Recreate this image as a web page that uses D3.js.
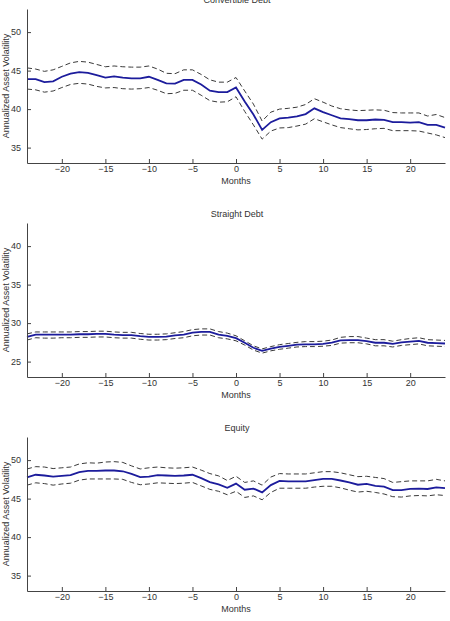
<!DOCTYPE html>
<html>
<head>
<meta charset="utf-8">
<script src="https://cdn.jsdelivr.net/npm/d3@7"></script>
<style>
  html, body { margin: 0; padding: 0; background: #fff; }
  svg { display: block; }
  text { font-family: "Liberation Sans", Arial, Helvetica, sans-serif; }
</style>
</head>
<body>
<script>
// ---- Data ----
const months = d3.range(-24, 25);
const xTicks = [-20, -15, -10, -5, 0, 5, 10, 15, 20];

const titles = ["Convertible Debt", "Straight Debt", "Equity"];
const yDomains = [[33, 53], [23, 43], [33, 53]];
const yTicksList = [[35, 40, 45, 50], [25, 30, 35, 40], [35, 40, 45, 50]];

const convMean = [43.9,43.9,43.5,43.6,44.2,44.6,44.8,44.7,44.4,44.1,44.25,44.1,44.0,44.0,44.2,43.8,43.35,43.3,43.8,43.8,43.2,42.4,42.2,42.2,42.8,41.0,39.3,37.3,38.3,38.8,38.9,39.05,39.35,40.1,39.6,39.2,38.8,38.7,38.55,38.55,38.65,38.6,38.3,38.3,38.25,38.3,37.95,37.95,37.6];
const convUpper = [45.35,45.2,44.9,45.1,45.55,46.0,46.2,46.1,45.8,45.5,45.6,45.5,45.45,45.45,45.6,45.2,44.65,44.6,45.1,45.1,44.5,43.8,43.5,43.5,44.1,42.35,40.65,38.45,39.6,40.0,40.1,40.25,40.6,41.35,40.9,40.4,40.05,39.9,39.8,39.85,39.9,39.85,39.55,39.5,39.5,39.5,39.1,39.3,38.9];
const convLower = [42.6,42.5,42.2,42.35,42.8,43.2,43.35,43.25,42.95,42.75,42.8,42.65,42.6,42.65,42.8,42.45,42.0,42.05,42.45,42.45,41.8,41.1,40.9,40.95,41.6,39.7,37.95,36.1,37.15,37.55,37.6,37.8,38.05,38.75,38.35,37.95,37.6,37.45,37.3,37.35,37.45,37.5,37.2,37.2,37.2,37.15,36.9,36.65,36.3];

const straightMean = [28.2,28.5,28.5,28.5,28.5,28.5,28.55,28.55,28.6,28.6,28.5,28.45,28.45,28.3,28.2,28.2,28.25,28.4,28.5,28.75,28.85,28.85,28.5,28.35,28.05,27.45,26.8,26.4,26.7,26.9,27.05,27.2,27.25,27.25,27.3,27.45,27.75,27.8,27.8,27.65,27.45,27.45,27.3,27.5,27.6,27.7,27.45,27.4,27.35];
const straightUpper = [28.6,28.85,28.85,28.85,28.85,28.85,28.9,28.9,28.95,28.95,28.85,28.8,28.8,28.65,28.55,28.55,28.6,28.75,28.9,29.15,29.25,29.25,28.9,28.7,28.35,27.7,27.05,26.65,26.95,27.2,27.35,27.5,27.6,27.6,27.65,27.8,28.15,28.25,28.25,28.05,27.85,27.85,27.65,27.85,28.0,28.1,27.85,27.8,27.75];
const straightLower = [27.8,28.1,28.05,28.05,28.1,28.1,28.15,28.15,28.2,28.2,28.1,28.05,28.05,27.9,27.8,27.8,27.85,28.0,28.1,28.35,28.45,28.45,28.1,27.95,27.7,27.15,26.5,26.1,26.4,26.6,26.75,26.9,26.95,26.95,27.0,27.1,27.4,27.45,27.45,27.3,27.05,27.05,26.9,27.1,27.2,27.3,27.05,27.0,26.95];

const equityMean = [47.75,48.1,48.0,47.85,47.95,48.05,48.45,48.6,48.6,48.65,48.65,48.55,48.2,47.8,47.85,48.05,48.0,47.95,48.0,48.1,47.65,47.15,46.85,46.4,46.95,46.15,46.3,45.8,46.75,47.3,47.25,47.25,47.25,47.4,47.55,47.55,47.35,47.1,46.8,46.9,46.65,46.55,46.1,46.1,46.25,46.3,46.25,46.45,46.35];
const equityUpper = [48.85,49.15,49.1,48.9,49.0,49.1,49.5,49.65,49.6,49.75,49.8,49.7,49.25,48.85,49.0,49.1,49.0,48.95,49.0,49.1,48.7,48.25,47.95,47.35,47.9,47.1,47.3,46.75,47.8,48.25,48.2,48.2,48.2,48.35,48.5,48.5,48.35,48.1,47.85,47.9,47.75,47.6,47.1,47.2,47.3,47.3,47.3,47.5,47.3];
const equityLower = [46.75,47.05,46.95,46.75,46.9,47.0,47.4,47.55,47.55,47.55,47.55,47.5,47.1,46.8,46.9,47.05,47.0,46.95,47.0,47.1,46.65,46.2,45.95,45.5,45.95,45.15,45.35,44.85,45.8,46.35,46.35,46.35,46.35,46.5,46.6,46.6,46.4,46.1,45.85,45.95,45.8,45.6,45.25,45.2,45.35,45.4,45.35,45.5,45.4];

const meanSeries = [convMean, straightMean, equityMean];
const upperSeries = [convUpper, straightUpper, equityUpper];
const lowerSeries = [convLower, straightLower, equityLower];

// ---- Layout ----
const W = 450, H = 621;
const left = 27, right = 445;
const panelTops = [9, 223, 437];
const panelH = 154;

const svg = d3.select("body").append("svg").attr("width", W).attr("height", H);

const x = d3.scaleLinear().domain([-24, 24]).range([left, right]);
const fmt = d => (d < 0 ? "\u2212" + Math.abs(d) : String(d));

for (let p = 0; p < 3; p++) {
  const top = panelTops[p], bottom = top + panelH;
  const y = d3.scaleLinear().domain(yDomains[p]).range([bottom, top]);
  const g = svg.append("g");

  const line = d3.line().x((d, i) => x(months[i])).y(d => y(d));

  // dashed bands
  [upperSeries[p], lowerSeries[p]].forEach(s => {
    g.append("path").datum(s).attr("d", line)
      .attr("fill", "none").attr("stroke", "#3a3a3a")
      .attr("stroke-width", 1).attr("stroke-dasharray", "5,3");
  });
  // mean
  g.append("path").datum(meanSeries[p]).attr("d", line)
    .attr("fill", "none").attr("stroke", "#1c1c9c").attr("stroke-width", 1.8);

  // axes (MATLAB-style, ticks inward)
  const xAxis = d3.axisBottom(x).tickValues(xTicks).tickFormat(fmt)
    .tickSizeInner(-4).tickSizeOuter(0).tickPadding(8);
  const gx = g.append("g").attr("transform", `translate(0,${bottom})`).call(xAxis);
  const yAxis = d3.axisLeft(y).tickValues(yTicksList[p]).tickFormat(fmt)
    .tickSizeInner(-4).tickSizeOuter(0).tickPadding(6);
  const gy = g.append("g").attr("transform", `translate(${left},0)`).call(yAxis);
  [gx, gy].forEach(a => {
    a.select(".domain").attr("stroke", "#444").attr("stroke-width", 1);
    a.selectAll(".tick line").attr("stroke", "#444");
    a.selectAll(".tick text").attr("fill", "#333").style("font-size", "9px");
  });
  gx.selectAll(".tick text").attr("dy", "0.71em").attr("y", 3);

  // labels
  g.append("text").attr("x", (left + right) / 2).attr("y", bottom + 21)
    .attr("text-anchor", "middle").attr("fill", "#333").style("font-size", "9px").text("Months");
  g.append("text")
    .attr("transform", `translate(9,${(top + bottom) / 2}) rotate(-90)`)
    .attr("text-anchor", "middle").attr("fill", "#333").style("font-size", "9px")
    .text("Annualized Asset Volatility");
  g.append("text").attr("x", (left + right) / 2 + 1).attr("y", top - 6)
    .attr("text-anchor", "middle").attr("fill", "#333").style("font-size", "9px").text(titles[p]);
}
</script>
</body>
</html>
